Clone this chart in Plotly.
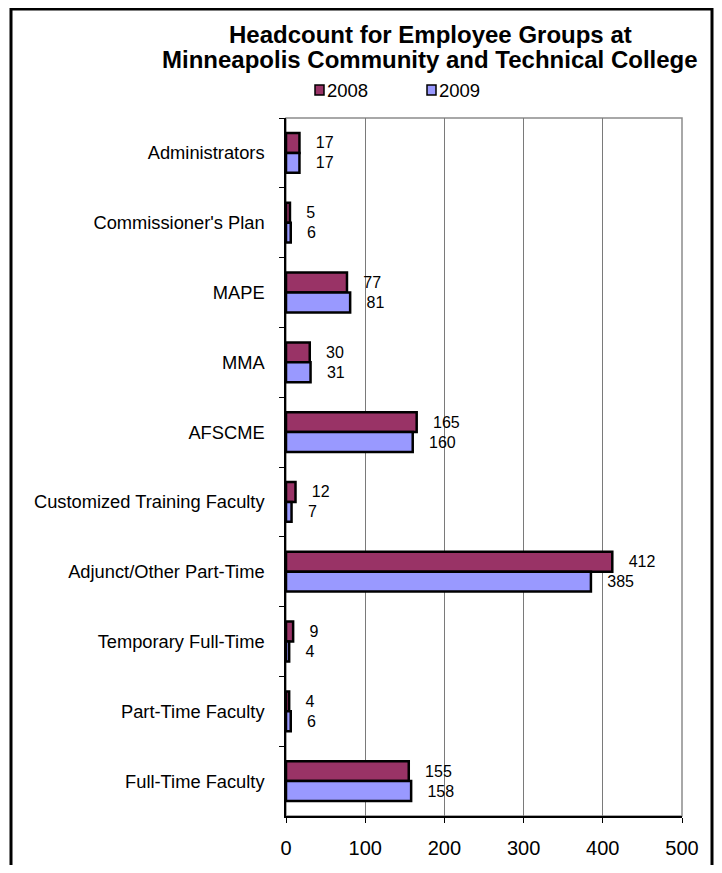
import plotly.graph_objects as go

categories = ["Administrators", "Commissioner's Plan", "MAPE", "MMA", "AFSCME",
              "Customized Training Faculty", "Adjunct/Other Part-Time",
              "Temporary Full-Time", "Part-Time Faculty", "Full-Time Faculty"]
values_2008 = [17, 5, 77, 30, 165, 12, 412, 9, 4, 155]
values_2009 = [17, 6, 81, 31, 160, 7, 385, 4, 6, 158]
series_names = ["2008", "2009"]
x_ticks = [0, 100, 200, 300, 400, 500]
title_lines = ["Headcount for Employee Groups at",
               "Minneapolis Community and Technical College"]

FONT = "Arial, Liberation Sans, sans-serif"
C2008 = "#993366"
C2009 = "#9999FF"

# page has an 8px body margin; work in page pixel coordinates
OFF = 8
L, R, T, B = 286, 682, 118, 816          # plot area in page pixels
W, H = 722 - 2 * OFF, 873 - 2 * OFF      # figure size (fits without scrollbars)
def px(x):
    return (x - L) / (R - L)
def py(y):
    return (B - y) / (B - T)

fig = go.Figure()
for name, vals, col in [(series_names[0], values_2008, C2008),
                        (series_names[1], values_2009, C2009)]:
    fig.add_trace(go.Bar(
        y=categories, x=vals, name=name, orientation="h",
        marker=dict(color=col, line=dict(color="black", width=2.5)),
        text=vals, texttemplate="\u00a0\u00a0\u00a0%{x}", textposition="outside",
        textfont=dict(family=FONT, size=16, color="black"),
        cliponaxis=False, showlegend=False,
    ))

shapes = [
    # plot frame (gray)
    dict(type="rect", xref="paper", yref="paper", x0=0, x1=1, y0=0, y1=1,
         line=dict(color="#8c8c8c", width=1.5), layer="below"),
    # outer border
    dict(type="rect", xref="paper", yref="paper", x0=px(11), x1=px(712),
         y0=py(890), y1=py(9), line=dict(color="black", width=3)),
]
annotations = [
    dict(text="<b>%s</b>" % title_lines[0], xref="paper", yref="paper",
         x=px(430), y=py(34), xanchor="center", yanchor="middle", showarrow=False,
         font=dict(family=FONT, size=24, color="black")),
    dict(text="<b>%s</b>" % title_lines[1], xref="paper", yref="paper",
         x=px(430), y=py(60), xanchor="center", yanchor="middle", showarrow=False,
         font=dict(family=FONT, size=24, color="black")),
]
# custom legend
for i, (name, col) in enumerate([(series_names[0], C2008), (series_names[1], C2009)]):
    x0 = 315 + i * 112
    shapes.append(dict(type="rect", xref="paper", yref="paper",
                       x0=px(x0), x1=px(x0 + 9), y0=py(95), y1=py(85),
                       fillcolor=col, line=dict(color="black", width=1.5)))
    annotations.append(dict(text=name, xref="paper", yref="paper",
                            x=px(x0 + 10), y=py(90), xanchor="left", yanchor="middle",
                            showarrow=False,
                            font=dict(family=FONT, size=18.5, color="black")))

fig.update_layout(
    width=W, height=H,
    margin=dict(l=L - OFF, r=W - (R - OFF), t=T - OFF, b=H - (B - OFF), pad=0,
                autoexpand=False),
    paper_bgcolor="white", plot_bgcolor="white",
    barmode="group", bargap=0.43, bargroupgap=0,
    showlegend=False,
    shapes=shapes, annotations=annotations,
    xaxis=dict(range=[0, 500], tickvals=x_ticks, ticktext=[str(v) for v in x_ticks],
               showgrid=True, gridcolor="#7a7a7a", gridwidth=1, automargin=False,
               zeroline=False, showline=True, linecolor="black", linewidth=1.5,
               ticks="outside", ticklen=5, tickcolor="black", tickwidth=1,
               ticklabelstandoff=8,
               tickfont=dict(family=FONT, size=20, color="black"), fixedrange=True),
    yaxis=dict(categoryorder="array", categoryarray=categories, autorange="reversed",
               showgrid=False, zeroline=False, showline=True, linecolor="black",
               linewidth=1.5, ticks="outside", ticklen=5, tickcolor="black",
               tickwidth=1, tickson="boundaries", ticklabelstandoff=16, automargin=False,
               tickfont=dict(family=FONT, size=18.3, color="black"), fixedrange=True),
)

fig.write_html("out.html")
